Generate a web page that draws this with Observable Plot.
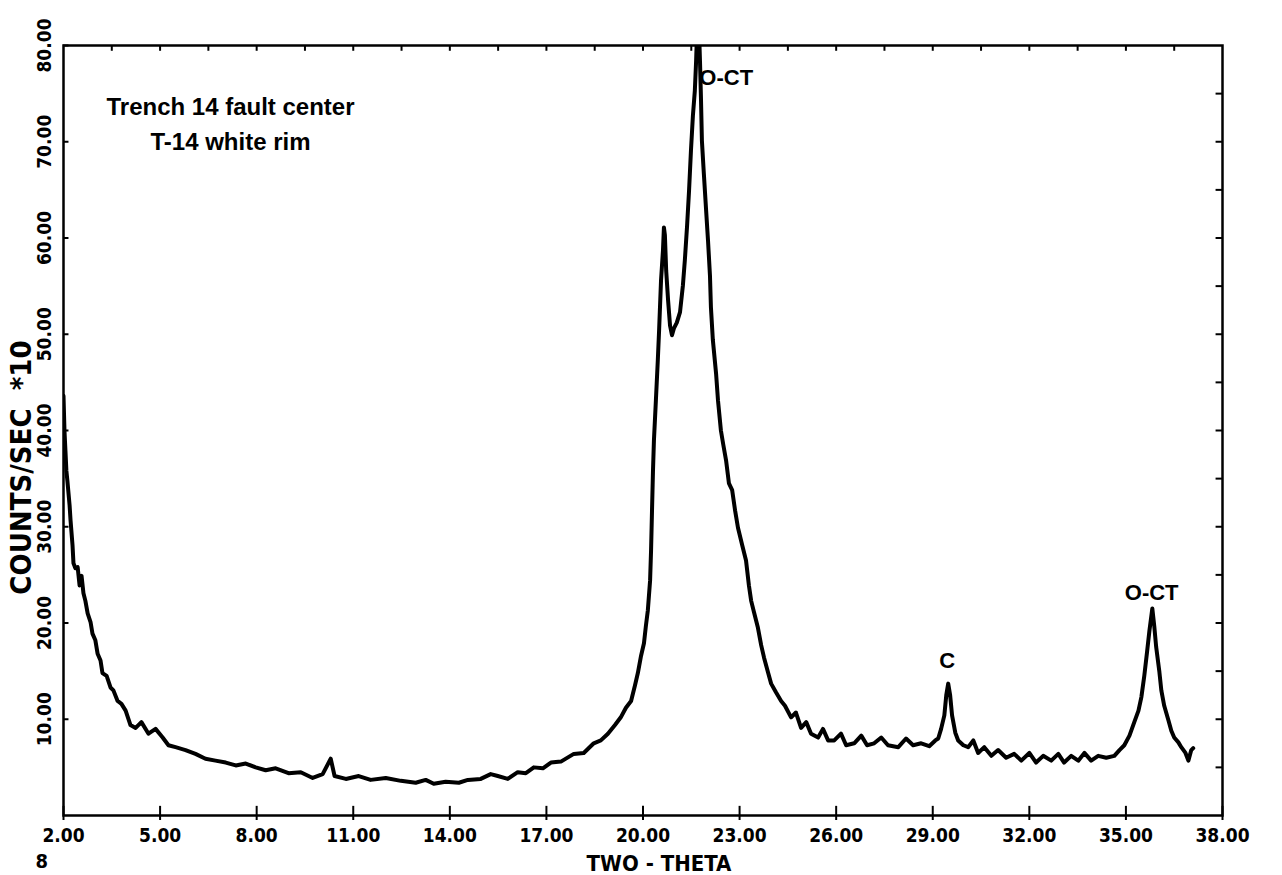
<!DOCTYPE html>
<html>
<head>
<meta charset="utf-8">
<script src="https://cdn.jsdelivr.net/npm/d3@7"></script>
<script src="https://cdn.jsdelivr.net/npm/@observablehq/plot@0.6"></script>
<style>
  html, body { margin: 0; padding: 0; background: #fff; }
  #chart { width: 1282px; height: 875px; overflow: hidden; }
</style>
</head>
<body>
<div id="chart"></div>
<script>
// Diffraction pattern: two-theta (deg) and counts/sec (x10)
const twoTheta = [
  2.00, 2.03, 2.06, 2.09, 2.12, 2.19, 2.22, 2.28, 2.31, 2.37, 2.44, 2.50, 2.56, 2.62, 2.68, 2.75,
  2.84, 2.90, 2.99, 3.06, 3.15, 3.21, 3.34, 3.46, 3.55, 3.68, 3.80, 3.93, 4.08, 4.24, 4.42, 4.64,
  4.86, 5.08, 5.26, 5.48, 5.79, 6.10, 6.41, 6.72, 7.04, 7.35, 7.66, 7.97, 8.28, 8.59, 8.99, 9.37,
  9.74, 10.05, 10.30, 10.42, 10.77, 11.17, 11.54, 12.01, 12.48, 12.94, 13.25, 13.50, 13.87, 14.28,
  14.56, 14.96, 15.27, 15.49, 15.80, 16.11, 16.36, 16.61, 16.89, 17.14, 17.45, 17.85, 18.16, 18.47,
  18.69, 18.91, 19.13, 19.31, 19.47, 19.63, 19.75, 19.84, 19.94, 20.03, 20.09, 20.15, 20.22, 20.25,
  20.28, 20.31, 20.34, 20.40, 20.46, 20.50, 20.56, 20.62, 20.65, 20.68, 20.72, 20.78, 20.84, 20.90,
  20.96, 21.05, 21.15, 21.24, 21.30, 21.37, 21.43, 21.49, 21.55, 21.61, 21.65, 21.68, 21.71, 21.74,
  21.77, 21.80, 21.83, 21.89, 21.96, 22.02, 22.08, 22.11, 22.17, 22.27, 22.33, 22.42, 22.49, 22.58,
  22.67, 22.77, 22.86, 22.95, 23.08, 23.20, 23.29, 23.36, 23.45, 23.57, 23.67, 23.76, 23.88, 23.98,
  24.13, 24.29, 24.41, 24.60, 24.75, 24.91, 25.07, 25.22, 25.44, 25.59, 25.75, 25.94, 26.15, 26.31,
  26.56, 26.78, 26.96, 27.18, 27.40, 27.61, 27.93, 28.17, 28.39, 28.64, 28.89, 29.08, 29.17, 29.26,
  29.36, 29.42, 29.48, 29.54, 29.60, 29.70, 29.79, 29.95, 30.10, 30.26, 30.41, 30.60, 30.82, 31.03,
  31.28, 31.53, 31.75, 32.00, 32.21, 32.43, 32.68, 32.90, 33.08, 33.30, 33.52, 33.71, 33.92, 34.14,
  34.39, 34.64, 34.80, 34.95, 35.11, 35.26, 35.39, 35.48, 35.57, 35.66, 35.73, 35.82, 35.88, 35.94,
  36.04, 36.10, 36.19, 36.32, 36.41, 36.50, 36.63, 36.72, 36.85, 36.94, 37.03, 37.09
];
const counts = [
  43.6, 40.0, 37.9, 35.8, 34.8, 32.2, 30.6, 28.1, 26.2, 25.7, 25.8, 23.9, 24.9, 23.1, 22.3, 21.0,
  20.1, 18.9, 18.2, 16.8, 16.1, 14.8, 14.5, 13.3, 13.0, 11.9, 11.6, 10.9, 9.4, 9.1, 9.7, 8.5,
  9.0, 8.1, 7.3, 7.1, 6.8, 6.4, 5.9, 5.7, 5.5, 5.2, 5.4, 5.0, 4.7, 4.9, 4.4, 4.5,
  3.9, 4.3, 5.9, 4.1, 3.8, 4.1, 3.7, 3.9, 3.6, 3.4, 3.7, 3.3, 3.5, 3.4,
  3.7, 3.8, 4.3, 4.1, 3.8, 4.5, 4.4, 5.0, 4.9, 5.5, 5.6, 6.4, 6.5, 7.5,
  7.8, 8.5, 9.4, 10.2, 11.2, 11.9, 13.5, 14.8, 16.6, 17.9, 19.7, 21.3, 24.4, 27.5,
  31.7, 35.8, 39.0, 43.1, 47.3, 50.4, 55.6, 58.7, 61.1, 60.3, 56.6, 53.5, 50.9, 49.9,
  50.6, 51.2, 52.3, 55.1, 57.7, 61.3, 64.9, 69.1, 72.7, 75.3, 78.4, 81.6, 82.6, 81.6,
  78.4, 74.6, 70.1, 66.7, 62.9, 59.7, 56.1, 52.8, 49.4, 45.9, 43.1, 40.0, 38.6, 36.9,
  34.5, 33.8, 31.7, 29.9, 28.1, 26.5, 23.9, 22.3, 21.1, 19.5, 17.7, 16.4, 14.9, 13.7,
  12.8, 11.9, 11.4, 10.2, 10.7, 9.1, 9.7, 8.5, 8.1, 9.0, 7.8, 7.8, 8.5, 7.3,
  7.5, 8.3, 7.3, 7.5, 8.1, 7.3, 7.1, 8.0, 7.3, 7.5, 7.2, 7.8, 8.0, 9.0,
  10.4, 12.5, 13.7, 12.5, 10.4, 8.6, 7.8, 7.3, 7.1, 7.8, 6.5, 7.1, 6.2, 6.8,
  6.0, 6.4, 5.7, 6.5, 5.5, 6.2, 5.7, 6.4, 5.5, 6.2, 5.7, 6.5, 5.7, 6.2,
  6.0, 6.2, 6.8, 7.3, 8.3, 9.7, 10.9, 12.3, 14.5, 17.1, 19.2, 21.5, 19.7, 17.5,
  14.9, 13.0, 11.4, 9.9, 8.8, 8.1, 7.6, 7.1, 6.5, 5.7, 6.8, 7.0
];

// Axis ticks
const xTicks = [2, 5, 8, 11, 14, 17, 20, 23, 26, 29, 32, 35, 38];
const yTicks = [10, 20, 30, 40, 50, 60, 70, 80];
const topTicks = [3.5, 5, 6.5, 8, 9.5, 11, 12.5, 14, 15.5, 17, 18.5, 20, 21.5, 23, 24.5, 26, 27.5, 29, 30.5, 32, 33.5, 35, 36.5];
const rightTicks = [5, 10, 15, 20, 25, 30, 35, 40, 45, 50, 55, 60, 65, 70, 75];

// Peak annotations
const peakNames = ["O-CT", "C", "O-CT"];
const peakX = [21.75, 29.45, 35.8];
const peakY = [76.6, 16.1, 23.1];
const peakAnchor = ["start", "middle", "middle"];

// Sample description
const sampleLines = ["Trench 14 fault center", "T-14 white rim"];

const xLabel = "TWO - THETA";
const yLabel = "COUNTS/SEC  *10";
const cornerMark = "8";

const data = twoTheta.map((x, i) => ({x, y: counts[i]}));
const peaks = peakNames.map((name, i) => ({name, x: peakX[i], y: peakY[i], anchor: peakAnchor[i]}));

const condensed = "'DejaVu Sans Condensed', 'Liberation Sans Narrow', 'DejaVu Sans', sans-serif";
const helv = "'Liberation Sans', Arial, Helvetica, sans-serif";

const chart = Plot.plot({
  width: 1282,
  height: 875,
  marginLeft: 63,
  marginRight: 60,
  marginTop: 45,
  marginBottom: 60,
  style: {background: "white", color: "black", fontFamily: condensed, fontWeight: "bold", fontSize: "19px", overflow: "visible"},
  x: {domain: [2, 38]},
  y: {domain: [0, 80]},
  marks: [
    // tick marks
    Plot.ruleX(xTicks, {x: d => d, y1: 0, y2: 0.95, stroke: "black", strokeWidth: 2}),
    Plot.ruleX(topTicks, {x: d => d, y1: 80, y2: 79.4, stroke: "black", strokeWidth: 2}),
    Plot.ruleY(yTicks, {y: d => d, x1: 2, x2: 2.17, stroke: "black", strokeWidth: 2}),
    Plot.ruleY(rightTicks, {y: d => d, x1: 38, x2: 37.8, stroke: "black", strokeWidth: 2}),
    Plot.axisX({ticks: xTicks, tickFormat: d => d.toFixed(2), tickSize: 5, tickPadding: 8, label: null, strokeWidth: 2}),
    Plot.axisY({ticks: yTicks, tickFormat: d => d.toFixed(2), tickSize: 0, tickPadding: 13, tickRotate: -90, label: null}),
    Plot.frame({stroke: "black", strokeWidth: 2.5}),
    Plot.line(data, {x: "x", y: "y", stroke: "black", strokeWidth: 4, strokeLinejoin: "round", clip: true}),
    Plot.text(peaks.filter(d => d.anchor === "start"), {x: "x", y: "y", text: "name", textAnchor: "start", fontFamily: helv, fontWeight: "bold", fontSize: 22, fill: "black"}),
    Plot.text(peaks.filter(d => d.anchor === "middle"), {x: "x", y: "y", text: "name", textAnchor: "middle", fontFamily: helv, fontWeight: "bold", fontSize: 22, fill: "black"}),
    Plot.text([sampleLines.join("\n")], {text: d => d, frameAnchor: "top-left", dx: 167, dy: 45, lineAnchor: "top", lineHeight: 1.45, textAnchor: "middle", fontFamily: helv, fontWeight: "bold", fontSize: 24, fill: "black"}),
    Plot.text([xLabel], {text: d => d, frameAnchor: "bottom", dx: 16, dy: 55, fontSize: 22, fill: "black"}),
    Plot.text([yLabel], {text: d => d, frameAnchor: "left", textAnchor: "middle", dx: -42, dy: 37, rotate: -90, fontSize: 29, letterSpacing: "1.5px", fill: "black"}),
    Plot.text([cornerMark], {text: d => d, frameAnchor: "bottom-left", dx: -28, dy: 52, fontSize: 20, fill: "black"})
  ]
});

document.getElementById("chart").appendChild(chart);
</script>
</body>
</html>
